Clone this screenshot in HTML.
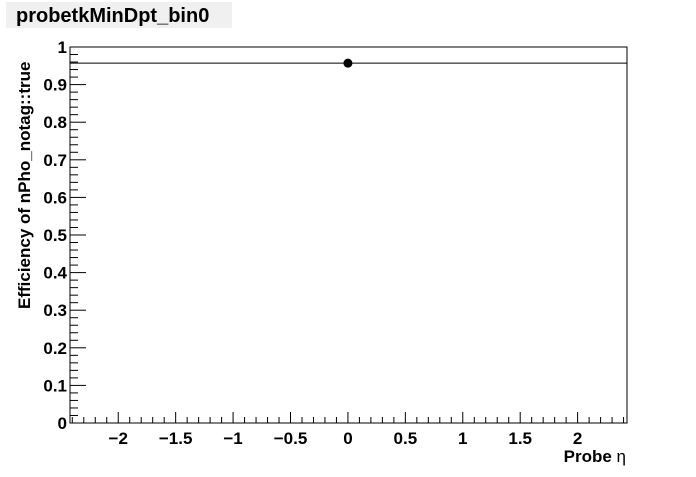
<!DOCTYPE html>
<html><head><meta charset="utf-8"><style>
body{margin:0;background:#fff;width:696px;height:472px;overflow:hidden}
svg{font-family:"Liberation Sans",Arial,sans-serif;font-weight:bold}
</style></head><body>
<svg id="c" width="696" height="472">
<rect x="6" y="2" width="226" height="26" fill="#f0f0f0"/>
<text x="16" y="22" font-size="20">probetkMinDpt_bin0</text>
<rect x="70" y="47" width="557" height="376" fill="none" stroke="#000" stroke-width="1"/>
<g id="ax"></g><g id="marks"></g>
<text x="626" y="462" font-size="17" text-anchor="end">Probe <tspan font-weight="normal">η</tspan></text>
<text transform="translate(30,309) rotate(-90)" font-size="17">Efficiency of nPho_notag::true</text>
</svg>
<script>
const xCats=[0];
const effValues=[0.957];
const errLow=[0.01];
const errHigh=[0.01];
const fitValue=[0.957];
const xTickLabels=["\u22122","\u22121.5","\u22121","\u22120.5","0","0.5","1","1.5","2"];
const xTickVals=[-2,-1.5,-1,-0.5,0,0.5,1,1.5,2];
const yTickVals=[0,0.1,0.2,0.3,0.4,0.5,0.6,0.7,0.8,0.9,1];
const yTickLabels=["0","0.1","0.2","0.3","0.4","0.5","0.6","0.7","0.8","0.9","1"];
const L=70,R=627,T=47,B=423,xmin=-2.42,xmax=2.43;
const sx=v=>L+(v-xmin)/(xmax-xmin)*(R-L);
const sy=v=>B-v*(B-T);
const NS="http://www.w3.org/2000/svg";
const ax=document.getElementById('ax'),mk=document.getElementById('marks');
function mkEl(t,a,p){const e=document.createElementNS(NS,t);for(const k in a)e.setAttribute(k,a[k]);p.appendChild(e);return e;}
for(let i=-24;i<=24;i++){const v=i/10;const x=sx(v);if(x<L||x>R)continue;const maj=i%5===0;
const t=mkEl('line',{x1:x,x2:x,y1:B,y2:B-(maj?11:6),stroke:'#000'},ax);

}
xTickVals.forEach((v,i)=>{const t=mkEl('text',{x:sx(v),y:B+21,'font-size':17,'text-anchor':'middle'},ax);t.textContent=xTickLabels[i];

});
for(let i=0;i<=50;i++){const v=i/50;const y=sy(v);const maj=i%5===0;
const t=mkEl('line',{x1:L,x2:L+(maj?16:8),y1:y,y2:y,stroke:'#000'},ax);

}
yTickVals.forEach((v,i)=>{const t=mkEl('text',{x:L-3,y:sy(v)+6,'font-size':17,'text-anchor':'end'},ax);t.textContent=yTickLabels[i];

});
fitValue.forEach(v=>{const l=mkEl('line',{x1:L,x2:R,y1:sy(v),y2:sy(v),stroke:'#000'},mk);

});
xCats.forEach((c,i)=>{const x=sx(c),y=sy(effValues[i]);
const e=mkEl('line',{x1:x,x2:x,y1:sy(effValues[i]+errHigh[i]),y2:sy(effValues[i]-errLow[i]),stroke:'#000','stroke-width':1.5},mk);


const p=mkEl('circle',{cx:x,cy:y,r:4.5,fill:'#000'},mk);

});
</script>
</body></html>
